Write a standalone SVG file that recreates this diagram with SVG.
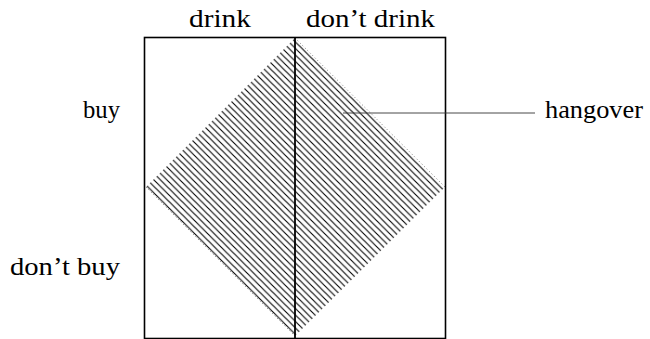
<svg xmlns="http://www.w3.org/2000/svg" width="650" height="339" viewBox="0 0 650 339">
  <style>
    .lbl { font-family: "Liberation Serif", "DejaVu Serif", serif; font-size: 25px; fill: #000; }
    .frame { fill: none; stroke: #000; stroke-width: 1.6; }
    .edge { fill: none; stroke: #444; stroke-width: 0.7; stroke-dasharray: 1 2.5; }
  </style>
  <defs>
    <pattern id="hatch" patternUnits="userSpaceOnUse" width="6.5" height="6.5">
      <path d="M-1,-1 L7.5,7.5 M-1,5.5 L1,7.5 M5.5,-1 L7.5,1" stroke="#000" stroke-width="1.1" fill="none"/>
    </pattern>
  </defs>
  <rect width="650" height="339" fill="#fff"/>

  <g id="hangover-region">
    <polygon points="295,38 445,187 295,336 146,187" fill="url(#hatch)"/>
    <path class="edge" d="M146,187 L295,336 M295,38 L445,187"/>
  </g>

  <g id="box">
    <rect class="frame" x="144.5" y="37.5" width="301" height="301"/>
  </g>

  <g id="divider">
    <line x1="295" y1="37" x2="295" y2="339" stroke="#000" stroke-width="1.8"/>
  </g>

  <g id="connectors">
    <line x1="343" y1="113" x2="535" y2="113" stroke="#333" stroke-width="0.9"/>
  </g>

  <g id="label-drink"><text class="lbl" x="189" y="27" textLength="62" lengthAdjust="spacingAndGlyphs">drink</text></g>
  <g id="label-dont-drink"><text class="lbl" x="306" y="27" textLength="129" lengthAdjust="spacingAndGlyphs">don’t drink</text></g>
  <g id="label-buy"><text class="lbl" x="83" y="118" textLength="37" lengthAdjust="spacingAndGlyphs">buy</text></g>
  <g id="label-dont-buy"><text class="lbl" x="10" y="275" textLength="110" lengthAdjust="spacingAndGlyphs">don’t buy</text></g>
  <g id="label-hangover"><text class="lbl" x="545" y="118" textLength="98" lengthAdjust="spacingAndGlyphs">hangover</text></g>
</svg>
